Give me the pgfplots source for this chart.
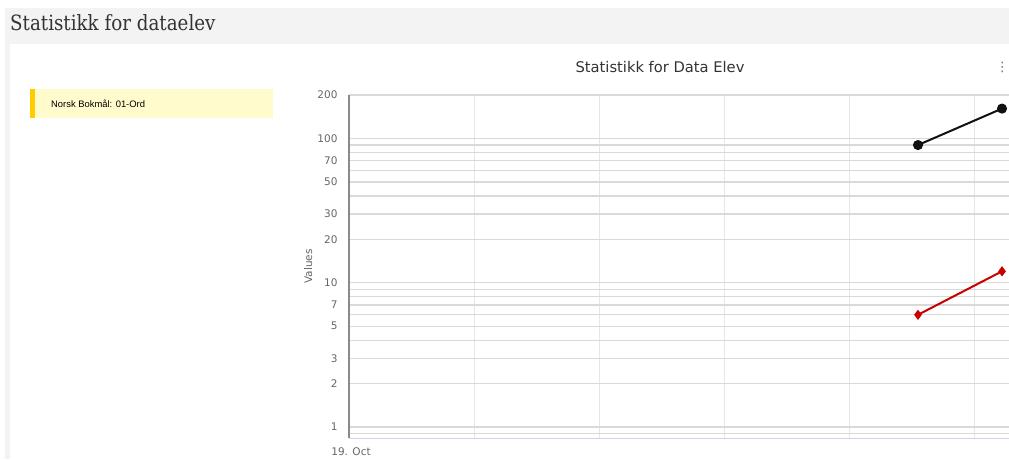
\documentclass[border=0pt]{standalone}
\usepackage{pgfplots}
\pgfplotsset{compat=1.18}
\usepackage{fontspec}
\setmainfont{DejaVu Sans}
\newfontfamily\chartfont{DejaVu Sans}
\newfontfamily\arialfont{Liberation Sans}
\newfontfamily\slabfont{DejaVu Serif}
\definecolor{hdrgray}{HTML}{F3F3F3}
\definecolor{yellowbg}{HTML}{FFFBCC}
\definecolor{goldbar}{HTML}{FFCC00}
\definecolor{darktext}{HTML}{333333}
\definecolor{labelgray}{HTML}{666666}
\definecolor{gridgray}{HTML}{D9D9D9}
\definecolor{vgridgray}{HTML}{E6E6E6}
\definecolor{xaxisblue}{HTML}{CCD6EB}
\definecolor{yaxisgray}{HTML}{8A8A8A}
\definecolor{seriesred}{HTML}{C80000}
\definecolor{seriesblack}{HTML}{111111}
\pgfplotstableread{
x y
4.552 90
5.224 161
}\blackdata
\pgfplotstableread{
x y
4.552 6
5.224 12
}\reddata
\begin{document}
\begin{tikzpicture}
\useasboundingbox (0pt,0pt) rectangle (1009pt,459pt);
\fill[white] (0pt,0pt) rectangle (1009pt,459pt);
\fill[hdrgray] (5pt,0pt) rectangle (1009pt,451pt);
\fill[white] (10pt,0pt) rectangle (1009pt,415pt);
\node[anchor=base west, inner sep=0pt, font=\slabfont\fontsize{21}{21}\selectfont, text=darktext, xscale=0.87] at (10pt,428pt) {Statistikk for dataelev};
\fill[yellowbg] (30pt,341pt) rectangle (273pt,370pt);
\fill[goldbar] (30pt,341pt) rectangle (35pt,370pt);
\node[anchor=west, inner sep=0pt, font=\arialfont\fontsize{9.4}{9.4}\selectfont, text=black] at (51pt,355.5pt) {Norsk Bokmål: 01-Ord};
\node[font=\chartfont\fontsize{14.7}{14.7}\selectfont, text=darktext] at (660pt,392pt) {Statistikk for Data Elev};
\node[anchor=east, inner sep=0pt, font=\chartfont\fontsize{13}{13}\selectfont, text=labelgray] at (1009pt,392pt) {⋮};
\begin{axis}[
  at={(349pt,21pt)}, anchor=south west,
  scale only axis, width=660pt, height=343pt,
  xmin=0, xmax=5.28,
  ymode=log, ymin=0.84, ymax=200,
  axis lines=left,
  axis line style={-},
  x axis line style={draw=xaxisblue, line width=1pt},
  y axis line style={draw=yaxisgray, line width=1.6pt},
  xtick={0,1,2,3,4,5},
  xticklabels={19. Oct,{},{},{},{},{}},
  xmajorgrids,
  ytick={1,2,3,5,7,10,20,30,50,70,100,200},
  yticklabels={1,2,3,5,7,10,20,30,50,70,100,200},
  minor ytick={0.9,4,6,8,9,40,60,80,90},
  ymajorgrids, yminorgrids,
  x grid style={draw=vgridgray, line width=1pt},
  y grid style={draw=gridgray, line width=1.3pt},
  major tick length=0pt, minor tick length=0pt,
  tick label style={font=\chartfont\fontsize{10.5}{10.5}\selectfont, text=labelgray},
  yticklabel style={anchor=east, xshift=-8pt},
  xticklabel style={anchor=north, yshift=-6pt, xshift=2pt},
  ylabel={Values},
  ylabel style={at={(axis description cs:-0.062,0.5)}, anchor=center, font=\chartfont\fontsize{10.5}{10.5}\selectfont, text=labelgray},
]
\addplot[seriesblack, line width=2pt, mark=*, mark size=4pt] table[x=x,y=y] {\blackdata};
\addplot[seriesred, line width=2pt, mark=diamond*, mark size=3.5pt] table[x=x,y=y] {\reddata};
\end{axis}
\end{tikzpicture}
\end{document}
